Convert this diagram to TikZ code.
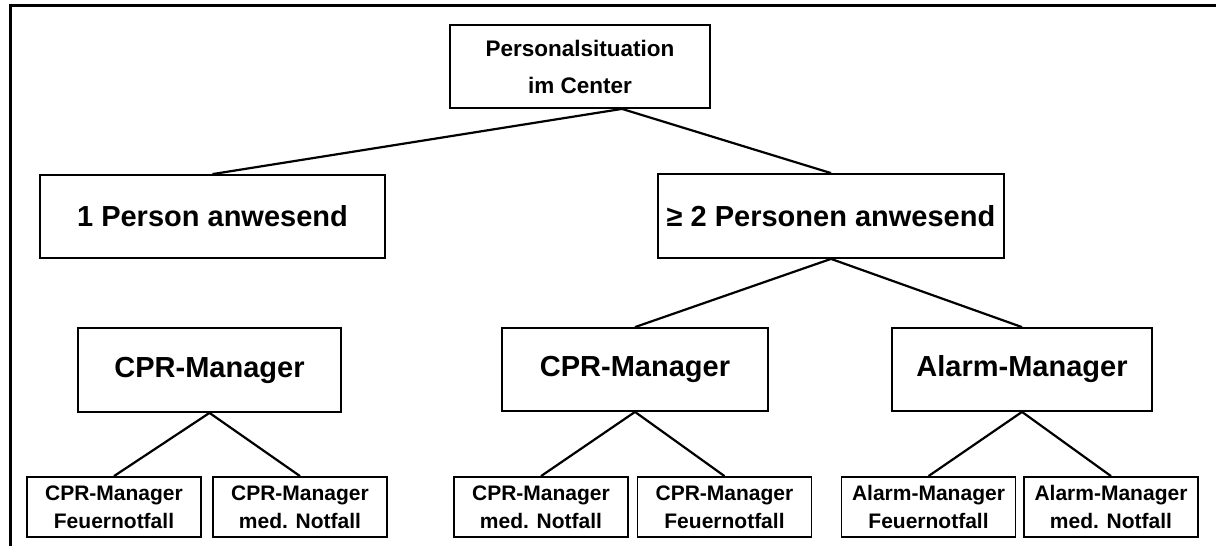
\documentclass[tikz,border=0pt]{standalone}
\usepackage{fontspec}
\setmainfont{Liberation Sans}
\begin{document}
\begin{tikzpicture}[x=1pt,y=-1pt,
  box/.style={draw, line width=1.8pt, inner sep=0pt, align=center, font=\bfseries},
  topbox/.style={box, font=\bfseries\fontsize{22.5}{37}\selectfont},
  midbox/.style={box, font=\bfseries\fontsize{29}{33}\selectfont},
  mgrbox/.style={box, font=\bfseries\fontsize{29}{33}\selectfont},
  leafbox/.style={box, font=\bfseries\fontsize{21}{28}\selectfont, minimum width=174pt, minimum height=60pt},
  link/.style={line width=2.2pt},
  frame/.style={line width=3pt}]
\useasboundingbox (0,0) rectangle (1216,546);
\draw[frame] (10,560) -- (10,5) -- (1230,5);

\node[topbox, minimum width=260pt, minimum height=83pt] (top) at (580,66.5) {Personalsituation\\im Center};
\node[midbox, minimum width=345pt, minimum height=83pt] (one) at (212.5,216.5) {1 Person anwesend};
\node[midbox, minimum width=346pt, minimum height=84pt] (two) at (831,216) {≥ 2 Personen anwesend};

\node[mgrbox, minimum width=263pt, minimum height=84pt] (cprA) at (209.5,370) {CPR-Manager};
\node[mgrbox, minimum width=266pt, minimum height=83pt] (cprB) at (635,369.5) {CPR-Manager};
\node[mgrbox, minimum width=260pt, minimum height=83pt] (alarm) at (1022,369.5) {Alarm-Manager};

\node[leafbox] (a1) at (114,507) {CPR-Manager\\Feuernotfall};
\node[leafbox] (a2) at (300,507) {CPR-Manager\\med. Notfall};
\node[leafbox] (b1) at (541,507) {CPR-Manager\\med. Notfall};
\node[leafbox] (b2) at (724.5,507) {CPR-Manager\\Feuernotfall};
\node[leafbox] (c1) at (928.5,507) {Alarm-Manager\\Feuernotfall};
\node[leafbox] (c2) at (1111,507) {Alarm-Manager\\med. Notfall};

\draw[link] (one.north) -- ([xshift=42pt]top.south) -- (two.north);
\draw[link] (cprB.north) -- (two.south) -- (alarm.north);
\draw[link] (a1.north) -- (cprA.south) -- (a2.north);
\draw[link] (b1.north) -- (cprB.south) -- (b2.north);
\draw[link] (c1.north) -- (alarm.south) -- (c2.north);
\end{tikzpicture}
\end{document}
